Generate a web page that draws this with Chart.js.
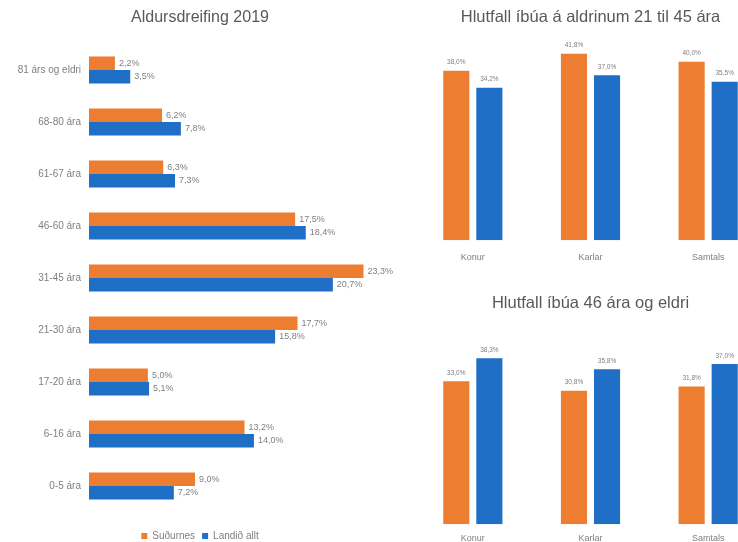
<!DOCTYPE html>
<html><head><meta charset="utf-8">
<script src="https://cdn.jsdelivr.net/npm/chart.js@4/dist/chart.umd.min.js"></script>
<style>
html,body{margin:0;padding:0;background:#fff;overflow:hidden;width:738px;height:542px;}
#wrap{position:relative;width:738px;height:542px;overflow:hidden;background:#fff;}
.box{position:absolute;}
canvas{display:block;}
</style></head><body>
<div id="wrap">
<div class="box" style="left:0;top:0;"><canvas id="c1" width="400" height="552"></canvas></div>
<div class="box" style="left:414px;top:0;"><canvas id="c2" width="353" height="275"></canvas></div>
<div class="box" style="left:414px;top:282px;"><canvas id="c3" width="353" height="271"></canvas></div>
</div>
<script>
// ---- data ----
const ageGroups = ['81 árs og eldri','68-80 ára','61-67 ára','46-60 ára','31-45 ára','21-30 ára','17-20 ára','6-16 ára','0-5 ára'];
const agesSudurnes = [2.2, 6.2, 6.3, 17.5, 23.3, 17.7, 5.0, 13.2, 9.0];
const agesLandid   = [3.5, 7.8, 7.3, 18.4, 20.7, 15.8, 5.1, 14.0, 7.2];
const genderGroups = ['Konur','Karlar','Samtals'];
const share21to45Sudurnes = [38.0, 41.8, 40.0];
const share21to45Landid   = [34.2, 37.0, 35.5];
const share46plusSudurnes = [33.0, 30.8, 31.8];
const share46plusLandid   = [38.3, 35.8, 37.0];
const seriesNames = ['Suðurnes','Landið allt'];

const ORANGE = '#ED7D31';
const BLUE = '#1F6FC6';
const FONT = '"Liberation Sans", Arial, sans-serif';
const TEXT = '#7f7f7f';
const TITLE = '#595959';

function fmt(v){ return v.toFixed(1).replace('.', ',') + '%'; }

const valueLabels = {
  id:'valueLabels',
  afterDatasetsDraw(chart, args, opts){
    const ctx = chart.ctx;
    const horiz = chart.options.indexAxis === 'y';
    ctx.save();
    ctx.font = (opts.size || 8) + 'px ' + FONT;
    ctx.fillStyle = TEXT;
    chart.data.datasets.forEach((ds, di) => {
      const meta = chart.getDatasetMeta(di);
      meta.data.forEach((el, i) => {
        const txt = fmt(ds.data[i]);
        if (horiz) { ctx.textAlign='left'; ctx.textBaseline='middle'; ctx.fillText(txt, el.x + 4, el.y); }
        else { ctx.textAlign='center'; ctx.textBaseline='bottom'; ctx.fillText(txt, el.x, el.y - 5); }
      });
    });
    ctx.restore();
  }
};

Chart.defaults.font.family = FONT;
Chart.defaults.color = TEXT;
Chart.defaults.animation = false;

// ---- left: age distribution ----
new Chart(document.getElementById('c1'), {
  type:'bar',
  data:{ labels: ageGroups, datasets:[
    {label:seriesNames[0], data:agesSudurnes, backgroundColor:ORANGE, categoryPercentage:0.52, barPercentage:1.0},
    {label:seriesNames[1], data:agesLandid, backgroundColor:BLUE, categoryPercentage:0.52, barPercentage:1.0}
  ]},
  options:{
    responsive:false, indexAxis:'y',
    layout:{padding:{left:0,right:0,top:0,bottom:1}},
    scales:{
      x:{display:true, min:0, max:26.4, grid:{display:false, drawTicks:false}, border:{display:false}, ticks:{display:false},
         afterFit(s){ s.height = 12; }},
      y:{grid:{display:false, drawTicks:false}, border:{display:false},
         ticks:{font:{size:10}, color:TEXT, padding:8},
         afterFit(s){ s.width = 89; }}
    },
    plugins:{
      title:{display:true, text:'Aldursdreifing 2019', color:TITLE, font:{size:16, weight:'normal'}, padding:{top:8.4, bottom:16.4}},
      legend:{position:'bottom', labels:{boxWidth:6, boxHeight:6, font:{size:10}, color:TEXT, padding:7}},
      valueLabels:{size:9},
      tooltip:{enabled:false}
    }
  },
  plugins:[valueLabels]
});

function colChart(id, title, a, b, max, pad, titlePad, tickPad){
  return new Chart(document.getElementById(id), {
    type:'bar',
    data:{ labels: genderGroups, datasets:[
      {label:seriesNames[0], data:a, backgroundColor:ORANGE, categoryPercentage:0.562, barPercentage:0.79},
      {label:seriesNames[1], data:b, backgroundColor:BLUE, categoryPercentage:0.562, barPercentage:0.79}
    ]},
    options:{
      responsive:false,
      layout:{padding:pad},
      scales:{
        x:{grid:{display:false, drawTicks:false}, border:{display:false}, ticks:{font:{size:9}, color:TEXT, padding:tickPad}},
        y:{display:false, min:0, max:max}
      },
      plugins:{
        title:{display:true, text:title, color:TITLE, font:{size:16.5, weight:'normal'}, padding:titlePad},
        legend:{display:false},
        valueLabels:{size:6.5},
        tooltip:{enabled:false}
      }
    },
    plugins:[valueLabels]
  });
}

colChart('c2', 'Hlutfall íbúa á aldrinum 21 til 45 ára', share21to45Sudurnes, share21to45Landid, 46,
  {left:0,right:0,top:0,bottom:0}, {top:7.1,bottom:8.1}, 12);
colChart('c3', 'Hlutfall íbúa 46 ára og eldri', share46plusSudurnes, share46plusLandid, 46,
  {left:0,right:0,top:0,bottom:0}, {top:11.1,bottom:12.1}, 9);
</script>
</body></html>
